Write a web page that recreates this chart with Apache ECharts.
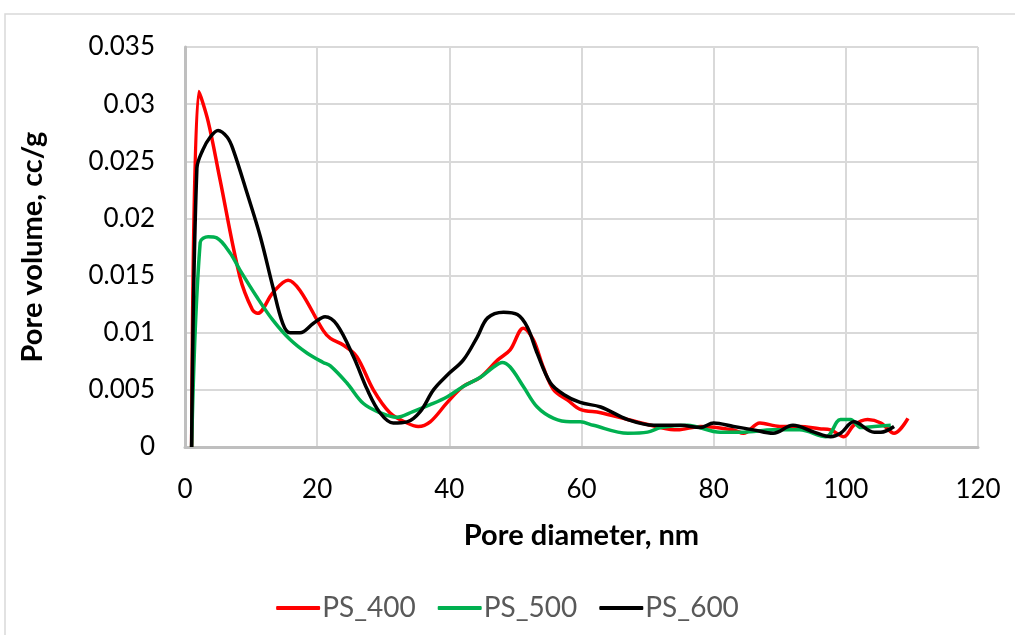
<!DOCTYPE html>
<html>
<head>
<meta charset="utf-8">
<script src="https://cdn.jsdelivr.net/npm/echarts@6/dist/echarts.min.js"></script>
<style>html,body{margin:0;padding:0;background:#fff}#c{width:1015px;height:635px}</style>
</head>
<body>
<div id="c"></div>
<script>
var seriesNames = ['PS_400', 'PS_500', 'PS_600'];
var ps400 = [[1,0],[2.1,0.0311],[3.5,0.0285],[5.3,0.0234],[8.3,0.0149],[10.2,0.012],[11,0.0117],[13.3,0.0135],[15.6,0.0146],[17.4,0.0137],[20.9,0.0102],[22,0.0095],[24,0.0089],[26,0.0079],[28.5,0.005],[31,0.003],[33.6,0.0021],[35.3,0.0018],[37.1,0.0022],[39.7,0.0039],[42.1,0.0053],[44.7,0.0061],[47.3,0.0076],[49.2,0.0085],[51.2,0.0104],[52.7,0.0094],[54.2,0.007],[55.8,0.005],[57.9,0.0041],[59.8,0.0033],[62.9,0.003],[67,0.0024],[72,0.0017],[74.5,0.0015],[78,0.0018],[83,0.0015],[84.5,0.0012],[87,0.0021],[90,0.0018],[93,0.0018],[96,0.0016],[97.7,0.0015],[99.7,0.0009],[101.2,0.0019],[103.3,0.0024],[105.3,0.0021],[107.3,0.0012],[109.4,0.0025]];
var ps500 = [[1,0],[2.3,0.0179],[3.5,0.0184],[4.8,0.0183],[6.8,0.017],[8.3,0.0155],[10.9,0.0131],[13.3,0.0111],[15.9,0.0094],[18.5,0.0082],[20.9,0.0074],[22,0.0071],[24.5,0.0056],[27,0.0038],[29.5,0.003],[32,0.0026],[34.5,0.0031],[37.1,0.0037],[39.7,0.0044],[42.1,0.0053],[44.7,0.0061],[46.7,0.007],[48,0.0074],[49.2,0.007],[51.2,0.0053],[53.3,0.0035],[55.8,0.0025],[58.3,0.0022],[59.8,0.0022],[61.8,0.0019],[67,0.0012],[70,0.0013],[72,0.0017],[76,0.0019],[81,0.0013],[84.5,0.0013],[89,0.0015],[93,0.0015],[97,0.0009],[99.2,0.0024],[100.7,0.0024],[102.3,0.0017],[104.3,0.0018],[106.8,0.0019]];
var ps600 = [[1,0],[1.8,0.0244],[2.7,0.026],[3.8,0.0271],[5,0.0277],[6.4,0.0271],[7.3,0.026],[9.4,0.0222],[11.4,0.0184],[13.3,0.014],[14.8,0.0108],[15.9,0.01],[17.4,0.01],[19.4,0.0108],[21.2,0.0114],[23,0.0107],[25.5,0.0079],[27.6,0.005],[29.5,0.003],[31.5,0.0021],[33.6,0.0022],[35.6,0.0031],[37.6,0.005],[39.7,0.0063],[42.1,0.0076],[44.2,0.0096],[45.8,0.0113],[48.2,0.0118],[50.3,0.0116],[51.8,0.0105],[53.3,0.0082],[55.3,0.0056],[57.3,0.0046],[59.8,0.0039],[62.9,0.0035],[67,0.0024],[71,0.0019],[75,0.0019],[78,0.0017],[80,0.0021],[83,0.0018],[86,0.0015],[89,0.0012],[92,0.0019],[95.2,0.0013],[97.7,0.0009],[99.2,0.0012],[101.2,0.0022],[104.3,0.0013],[105.3,0.0013],[107.3,0.0018]];
var colors = ['#ff0000', '#00b050', '#000000'];

var chart = echarts.init(document.getElementById('c'));
var font = 'Lato, "Open Sans", sans-serif';
function mk(name, data, color) {
  return {name: name, type: 'line', data: data, smooth: 0.35, symbol: 'none',
    lineStyle: {color: color, width: 3.5}, itemStyle: {color: color}};
}
chart.setOption({
  animation: false,
  backgroundColor: '#fff',
  graphic: [{type: 'rect', shape: {x: 5, y: 14, width: 1030, height: 640},
    style: {fill: 'none', stroke: '#d9d9d9', lineWidth: 1.5}, silent: true, z: -10}],
  grid: {left: 185, right: 37, top: 47, bottom: 188},
  legend: {
    data: seriesNames, top: 589, left: 'center', itemWidth: 44, itemHeight: 4, itemGap: 22,
    icon: 'roundRect',
    textStyle: {fontFamily: font, fontSize: 28, color: '#595959', padding: [0,0,0,-3]}
  },
  xAxis: {
    type: 'value', min: 0, max: 120, interval: 20,
    name: 'Pore diameter, nm', nameLocation: 'middle', nameGap: 74,
    nameTextStyle: {fontFamily: font, fontSize: 29, fontWeight: 'bold', color: '#000'},
    axisLine: {show: true, lineStyle: {color: '#bfbfbf', width: 3}},
    axisTick: {show: false},
    axisLabel: {fontFamily: font, fontSize: 26, color: '#000', margin: 30},
    splitLine: {show: true, lineStyle: {color: '#d9d9d9', width: 2}}
  },
  yAxis: {
    type: 'value', min: 0, max: 0.035, interval: 0.005,
    name: 'Pore volume, cc/g', nameLocation: 'middle', nameGap: 138,
    nameTextStyle: {fontFamily: font, fontSize: 29, fontWeight: 'bold', color: '#000'},
    axisLine: {show: true, lineStyle: {color: '#bfbfbf', width: 3}},
    axisTick: {show: false},
    axisLabel: {fontFamily: font, fontSize: 26, color: '#000', margin: 30,
      formatter: function (v) { return String(+v.toFixed(3)); }},
    splitLine: {show: true, lineStyle: {color: '#d9d9d9', width: 2}}
  },
  series: [mk(seriesNames[0], ps400, colors[0]), mk(seriesNames[1], ps500, colors[1]), mk(seriesNames[2], ps600, colors[2])]
});
</script>
</body>
</html>
